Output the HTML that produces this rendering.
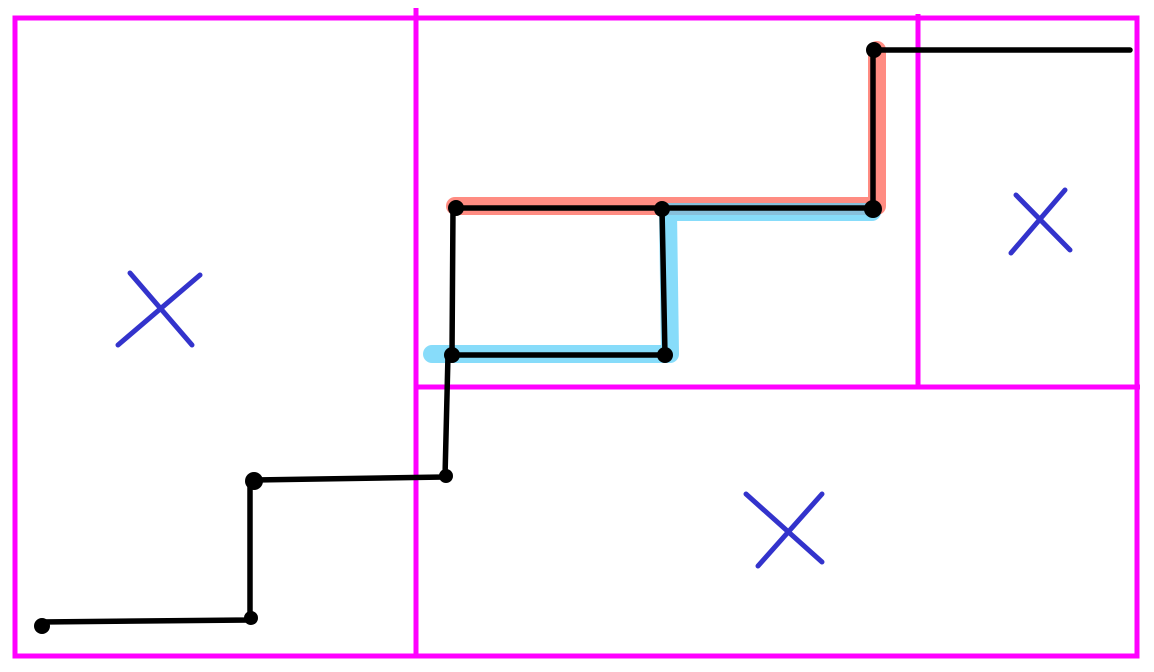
<!DOCTYPE html>
<html><head><meta charset="utf-8"><style>html,body{margin:0;padding:0;background:#fff}svg{display:block}</style></head>
<body>
<svg width="1154" height="672" viewBox="0 0 1154 672" xmlns="http://www.w3.org/2000/svg">
<g stroke="#ff00ff" stroke-width="5" fill="none">
<rect x="15" y="18" width="1122" height="638"/>
<line x1="416" y1="8" x2="416" y2="656"/>
<line x1="416" y1="387" x2="1140" y2="387"/>
<line x1="918" y1="14" x2="918" y2="387"/>
</g>
<polyline points="455,206 877,206 877,50" fill="none" stroke="#ff7f74" stroke-opacity="0.9" stroke-width="18" stroke-linecap="round" stroke-linejoin="round"/>
<polyline points="432,354 670,354 668,212 872,212" fill="none" stroke="#5fd0f8" stroke-opacity="0.75" stroke-width="18" stroke-linecap="round" stroke-linejoin="round"/>
<g fill="none" stroke="#000" stroke-width="5.5" stroke-linecap="round" stroke-linejoin="round">
<polyline points="40,622 250,620 250,480 445,477 448,355 665,355 662,208 873,208 873,50 1130,50"/>
<polyline points="452,355 453,208 662,208"/>
</g>
<g fill="#000">
<circle cx="42" cy="626" r="8"/><circle cx="251" cy="618" r="7"/><circle cx="254" cy="481" r="9"/>
<circle cx="446" cy="476" r="7"/><circle cx="452" cy="355" r="8"/><circle cx="665" cy="355" r="8"/>
<circle cx="456" cy="208" r="8"/><circle cx="662" cy="209" r="8"/><circle cx="873" cy="209" r="9"/><circle cx="874" cy="50" r="8"/>
</g>
<g stroke="#3333cc" stroke-width="5" stroke-linecap="round">
<path d="M118,345 L200,275 M130,273 L192,345"/>
<path d="M1011,253 L1065,190 M1016,195 L1070,250"/>
<path d="M758,566 L822,494 M746,494 L822,562"/>
</g>
</svg>
</body></html>
